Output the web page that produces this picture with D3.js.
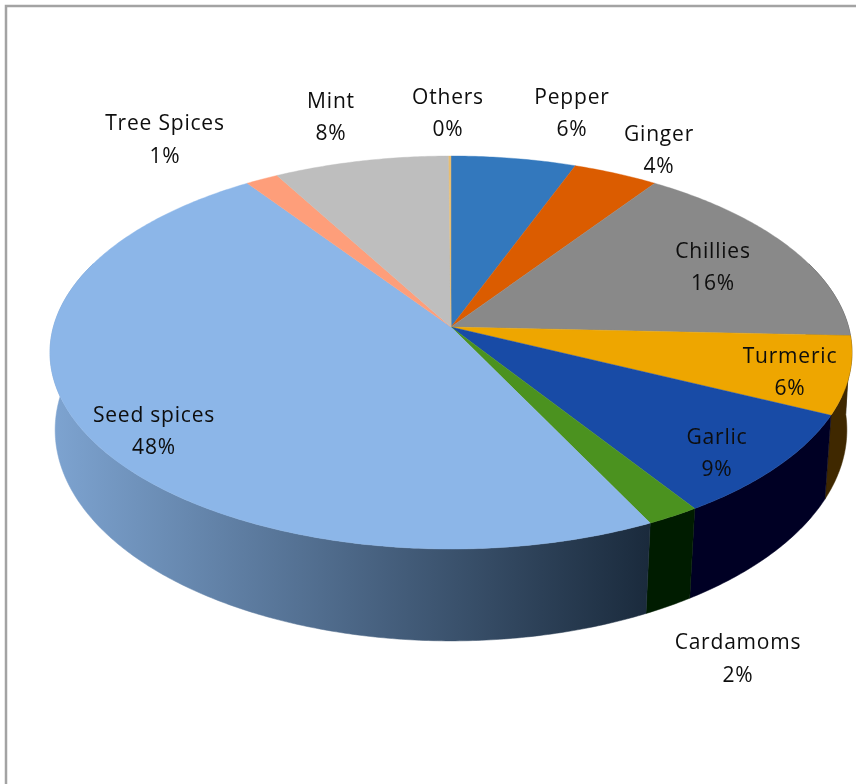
<!DOCTYPE html>
<html>
<head>
<meta charset="utf-8">
<script src="https://cdn.jsdelivr.net/npm/d3@7/dist/d3.min.js"></script>
<style>html,body{margin:0;padding:0;background:#fff;overflow:hidden}svg{display:block}</style>
</head>
<body>
<script>
const categories = ["Pepper","Ginger","Chillies","Turmeric","Garlic","Cardamoms","Seed spices","Tree Spices","Mint","Others"];
const shares = [5.7,3.9,16.1,6.4,8.7,1.9,47.7,1.5,8.0,0.1];
const percentLabels = ["6%","4%","16%","6%","9%","2%","48%","1%","8%","0%"];
const topColors = ["#3378bd","#db5c00","#898989","#eea600","#184ba6","#4b921f","#8cb6e8","#fe9e7a","#bebebe","#e8bd70"];
const wallColors = ["#1a3c5e","#6e2e00","#444444","#3f2800","#000024","#001c00","url(#seedWall)","#7f4f3d","#5f5f5f","#745e38"];
// label centres [x, first line y, second line y]
const labelCentres = [[572,96,128],[659,133,165],[713,250,282],[790,355,387],[717,436,468],[738,641,674],[154,414,446],[165,122,155],[331,100,132],[448,96,128]];

const W = 856, H = 784;
const svg = d3.select("body").append("svg").attr("width",W).attr("height",H);
const defs = svg.append("defs");
const grad = defs.append("linearGradient").attr("id","seedWall")
  .attr("gradientUnits","userSpaceOnUse").attr("x1",55).attr("x2",650).attr("y1",0).attr("y2",0);
grad.append("stop").attr("offset",0).attr("stop-color","#7da3d0");
grad.append("stop").attr("offset",1).attr("stop-color","#1a2a3c");
const blur = defs.append("filter").attr("id","soft").attr("x","-5%").attr("y","-5%").attr("width","110%").attr("height","110%");
blur.append("feGaussianBlur").attr("stdDeviation",0.55);

svg.append("rect").attr("width",W).attr("height",H).attr("fill","#fff");
svg.append("rect").attr("x",6).attr("y",6).attr("width",W+40).attr("height",H+40)
  .attr("fill","none").attr("stroke","#a3a3a3").attr("stroke-width",2.5);

// projective view of the disc: top face and bottom face
const topFace = {cx:451,A:397.6,a:150.75,b:327,c:-0.1298};
const botFace = {cx:451,A:393,a:159.4,b:404.6,c:-0.12};
function project(f,theta){
  const u = Math.sin(theta), v = -Math.cos(theta), d = 1+f.c*v;
  return [f.cx+f.A*u/d,(f.a*v+f.b)/d];
}
const arcPts = (f,a0,a1)=>{
  const n = Math.max(2,Math.ceil(Math.abs(a1-a0)/0.01));
  return d3.range(n+1).map(i=>project(f,a0+(a1-a0)*i/n));
};
const line = d3.line();

const pie = d3.pie().sort(null).startAngle(0).endAngle(2*Math.PI);
const slices = pie(shares);
const visFrom = 70*Math.PI/180, visTo = 290*Math.PI/180;

const walls = svg.append("g");
slices.forEach((s,i)=>{
  const a0 = Math.max(s.startAngle,visFrom), a1 = Math.min(s.endAngle,visTo);
  if(a1<=a0) return;
  const pts = arcPts(topFace,a0,a1).concat(arcPts(botFace,a1,a0));
  walls.append("path").attr("d",line(pts)+"Z").attr("fill",wallColors[i]).attr("stroke",wallColors[i]).attr("stroke-width",0.5);
});

const tops = svg.append("g");
const apex = [topFace.cx,topFace.b];
slices.forEach((s,i)=>{
  const pts = [apex].concat(arcPts(topFace,s.startAngle,s.endAngle));
  tops.append("path").attr("d",line(pts)+"Z").attr("fill",topColors[i]).attr("stroke",topColors[i]).attr("stroke-width",0.4);
});

const labels = svg.append("g").attr("filter","url(#soft)")
  .attr("font-family","'Open Sans',sans-serif").attr("font-size",21).attr("letter-spacing",0.8)
  .attr("fill","#0c0c0c").attr("text-anchor","middle");
categories.forEach((name,i)=>{
  const [x,y1,y2] = labelCentres[i];
  labels.append("text").attr("x",x).attr("y",y1).attr("dy","0.36em").text(name);
  labels.append("text").attr("x",x).attr("y",y2).attr("dy","0.36em").text(percentLabels[i]);
});
</script>
</body>
</html>
